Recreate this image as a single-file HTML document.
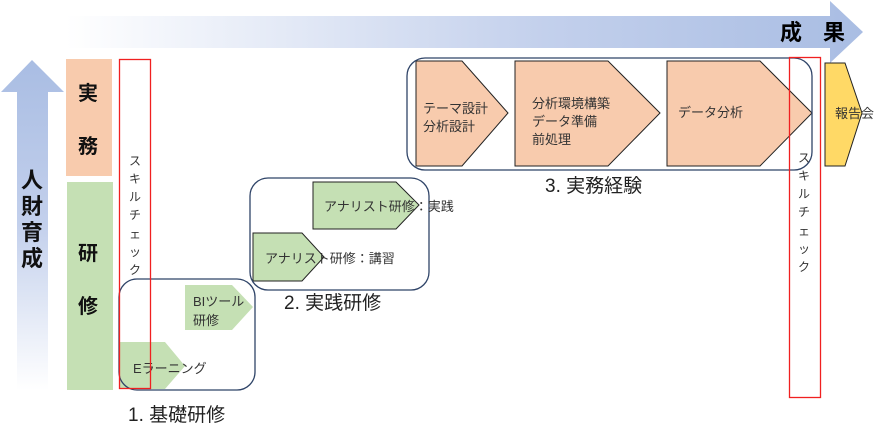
<!DOCTYPE html>
<html><head><meta charset="utf-8"><style>
html,body{margin:0;padding:0;background:#fff;width:888px;height:441px;overflow:hidden}
svg text{font-family:"Liberation Sans","Noto Sans CJK JP",sans-serif}
</style></head><body>
<svg width="888" height="441" viewBox="0 0 888 441" xmlns="http://www.w3.org/2000/svg">
<defs>
<linearGradient id="gh" x1="0" x2="1" y1="0" y2="0">
<stop offset="0" stop-color="#ffffff"/><stop offset="0.6" stop-color="#c3d0ec"/><stop offset="1" stop-color="#a9bde3"/></linearGradient>
<linearGradient id="gv" x1="0" x2="0" y1="1" y2="0">
<stop offset="0" stop-color="#ffffff"/><stop offset="0.5" stop-color="#c3d0ec"/><stop offset="1" stop-color="#a9bde3"/></linearGradient>
</defs>
<!-- top arrow -->
<polygon points="66,16 830,16 830,1 863,32 830,63 830,48 66,48" fill="url(#gh)"/>
<text x="780" y="40" font-size="22" font-weight="bold" fill="#000">成</text>
<text x="823" y="40" font-size="22" font-weight="bold" fill="#000">果</text>
<!-- left arrow -->
<polygon points="17,390 17,92 1,92 32,60 64,92 48,92 48,390" fill="url(#gv)"/>
<g font-size="22" font-weight="bold" fill="#111">
<text x="21" y="188">人</text><text x="21" y="214">財</text><text x="21" y="240">育</text><text x="21" y="266">成</text>
</g>
<rect x="66" y="59" width="46" height="117" fill="#f8cbad"/>
<rect x="67" y="182" width="46" height="208" fill="#c5e0b4"/>
<g font-size="20" font-weight="bold" fill="#111">
<text x="78" y="100">実</text><text x="78" y="153">務</text>
<text x="78" y="260">研</text><text x="78" y="313">修</text>
</g>
<!-- box1 -->
<polygon points="120,342 165,342 185,366 165,389 120,389" fill="#c5e0b4"/>
<polygon points="185,285 232,285 253,307 232,330 185,330" fill="#c5e0b4"/>
<rect x="119" y="279" width="136" height="111" rx="18" fill="none" stroke="#2f4468" stroke-width="1.3"/>
<text x="133" y="373" font-size="13" fill="#333">Eラーニング</text>
<text x="193" y="306" font-size="13" fill="#333">BIツール</text>
<text x="193" y="325" font-size="13" fill="#333">研修</text>
<text x="128" y="421" font-size="19" fill="#222">1. 基礎研修</text>
<!-- left red -->
<rect x="119.5" y="59.5" width="31" height="329" fill="none" stroke="#f02020" stroke-width="1.3"/>
<g font-size="12" fill="#333" text-anchor="middle">
<text x="135" y="165">ス</text><text x="135" y="183">キ</text><text x="135" y="201">ル</text><text x="135" y="219">チ</text><text x="135" y="238">ェ</text><text x="135" y="256">ッ</text><text x="135" y="274">ク</text>
</g>
<!-- box2 -->
<polygon points="313,182 396,182 419,205 396,229 313,229" fill="#c5e0b4" stroke="#222" stroke-width="1"/>
<polygon points="253,233 302,233 324,257 302,281 253,281" fill="#c5e0b4" stroke="#222" stroke-width="1"/>
<rect x="250" y="178" width="179" height="112" rx="18" fill="none" stroke="#2f4468" stroke-width="1.3"/>
<text x="324" y="211" font-size="13" fill="#333">アナリスト研修：実践</text>
<text x="265" y="263" font-size="13" fill="#333">アナリスト研修：講習</text>
<text x="284" y="309" font-size="19" fill="#222">2. 実践研修</text>
<!-- box3 -->
<polygon points="416,61 462,61 508,113 462,166 416,166" fill="#f8cbad" stroke="#222" stroke-width="1"/>
<polygon points="515,61 608,61 660,113 608,166 515,166" fill="#f8cbad" stroke="#222" stroke-width="1"/>
<polygon points="667,61 760,61 812,113 760,166 667,166" fill="#f8cbad" stroke="#222" stroke-width="1"/>
<rect x="407" y="58" width="405" height="112" rx="18" fill="none" stroke="#2f4468" stroke-width="1.3"/>
<g font-size="13" fill="#333">
<text x="423" y="113">テーマ設計</text><text x="423" y="131">分析設計</text>
<text x="532" y="108">分析環境構築</text><text x="532" y="126">データ準備</text><text x="532" y="144">前処理</text>
<text x="678" y="117">データ分析</text>
</g>
<text x="545" y="192" font-size="19" fill="#222">3. 実務経験</text>
<!-- 報告会 -->
<polygon points="825,63 845,63 862,113 845,166 825,166" fill="#ffd966" stroke="#222" stroke-width="1"/>
<text x="835" y="118" font-size="13" fill="#333">報告会</text>
<!-- right red -->
<rect x="789.5" y="57.5" width="31" height="340" fill="none" stroke="#f02020" stroke-width="1.3"/>
<g font-size="12" fill="#333" text-anchor="middle">
<text x="804" y="162">ス</text><text x="804" y="180">キ</text><text x="804" y="198">ル</text><text x="804" y="216">チ</text><text x="804" y="235">ェ</text><text x="804" y="253">ッ</text><text x="804" y="271">ク</text>
</g>
</svg>
</body></html>
